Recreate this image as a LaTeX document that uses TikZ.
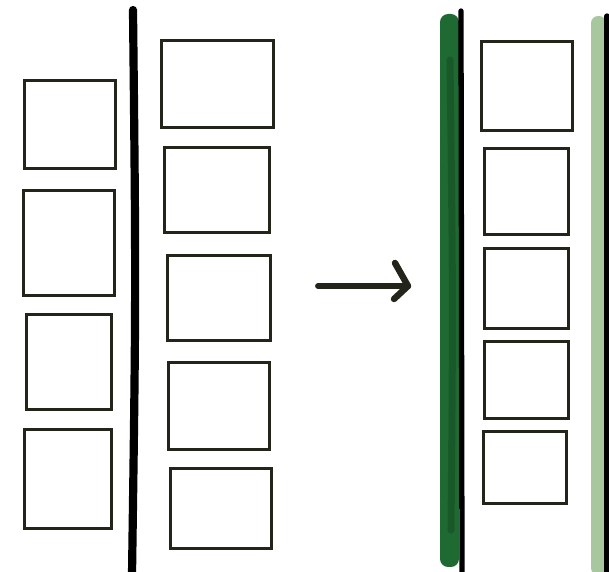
\documentclass[tikz,border=0pt]{standalone}
\usepackage{xcolor}
\usepackage{tikz}
\usetikzlibrary{arrows.meta}
\definecolor{ink}{HTML}{23241A}
\definecolor{darkgreen}{HTML}{1F6A32}
\definecolor{deepgreen}{HTML}{154F24}
\definecolor{palegreen}{HTML}{A9C79F}

\begin{document}
\begin{tikzpicture}[x=0.03cm, y=-0.03cm,
    panel/.style={draw=ink, line width=2.3pt, inner sep=0pt, anchor=north west},
    wall/.style={draw=black, line cap=round}
]
  \useasboundingbox (0,0) rectangle (609,572);

  % Trennlinie links
  \draw[wall, line width=7pt] (133,10) .. controls (136,290) .. (132,575);

  % Kacheln links der Linie
  \node[panel, minimum width=91*0.03cm, minimum height=88*0.03cm] (l1) at (23,79) {};
  \node[panel, minimum width=91*0.03cm, minimum height=105*0.03cm] (l2) at (22,189) {};
  \node[panel, minimum width=85*0.03cm, minimum height=95*0.03cm] (l3) at (25,313) {};
  \node[panel, minimum width=87*0.03cm, minimum height=99*0.03cm] (l4) at (23,428) {};

  % Kacheln rechts der Linie
  \node[panel, minimum width=112*0.03cm, minimum height=87*0.03cm] (m1) at (160,39) {};
  \node[panel, minimum width=105*0.03cm, minimum height=85*0.03cm] (m2) at (163,146) {};
  \node[panel, minimum width=103*0.03cm, minimum height=85*0.03cm] (m3) at (166,254) {};
  \node[panel, minimum width=101*0.03cm, minimum height=87*0.03cm] (m4) at (167,361) {};
  \node[panel, minimum width=101*0.03cm, minimum height=80*0.03cm] (m5) at (169,467) {};

  % Pfeil
  \coordinate (von) at (318,286);
  \coordinate (nach) at (408,286);
  \draw[ink, line width=5pt, line cap=round, line join=round] (von) -- (nach);
  \draw[ink, line width=5.5pt, line cap=round, line join=round] (395,263) -- (nach) -- (394,299);

  % gruene Streifen
  \fill[darkgreen, rounded corners=7pt] (440,14) rectangle (459,567);
  \draw[deepgreen, line width=6pt, line cap=round, opacity=0.6] (450,60) .. controls (453,300) .. (451,530);
  \fill[palegreen, rounded corners=6pt] (591,16) rectangle (606,575);

  % schwarze Linien rechts
  \draw[wall, line width=4.5pt] (461,11) -- (462,575);
  \draw[wall, line width=4.5pt] (607,16) -- (607,575);

  % Kacheln ganz rechts
  \node[panel, minimum width=91*0.03cm, minimum height=89*0.03cm] (r1) at (480,40) {};
  \node[panel, minimum width=84*0.03cm, minimum height=86*0.03cm] (r2) at (483,147) {};
  \node[panel, minimum width=84*0.03cm, minimum height=80*0.03cm] (r3) at (483,247) {};
  \node[panel, minimum width=84*0.03cm, minimum height=77*0.03cm] (r4) at (483,340) {};
  \node[panel, minimum width=83*0.03cm, minimum height=72*0.03cm] (r5) at (482,430) {};

\end{tikzpicture}
\end{document}
